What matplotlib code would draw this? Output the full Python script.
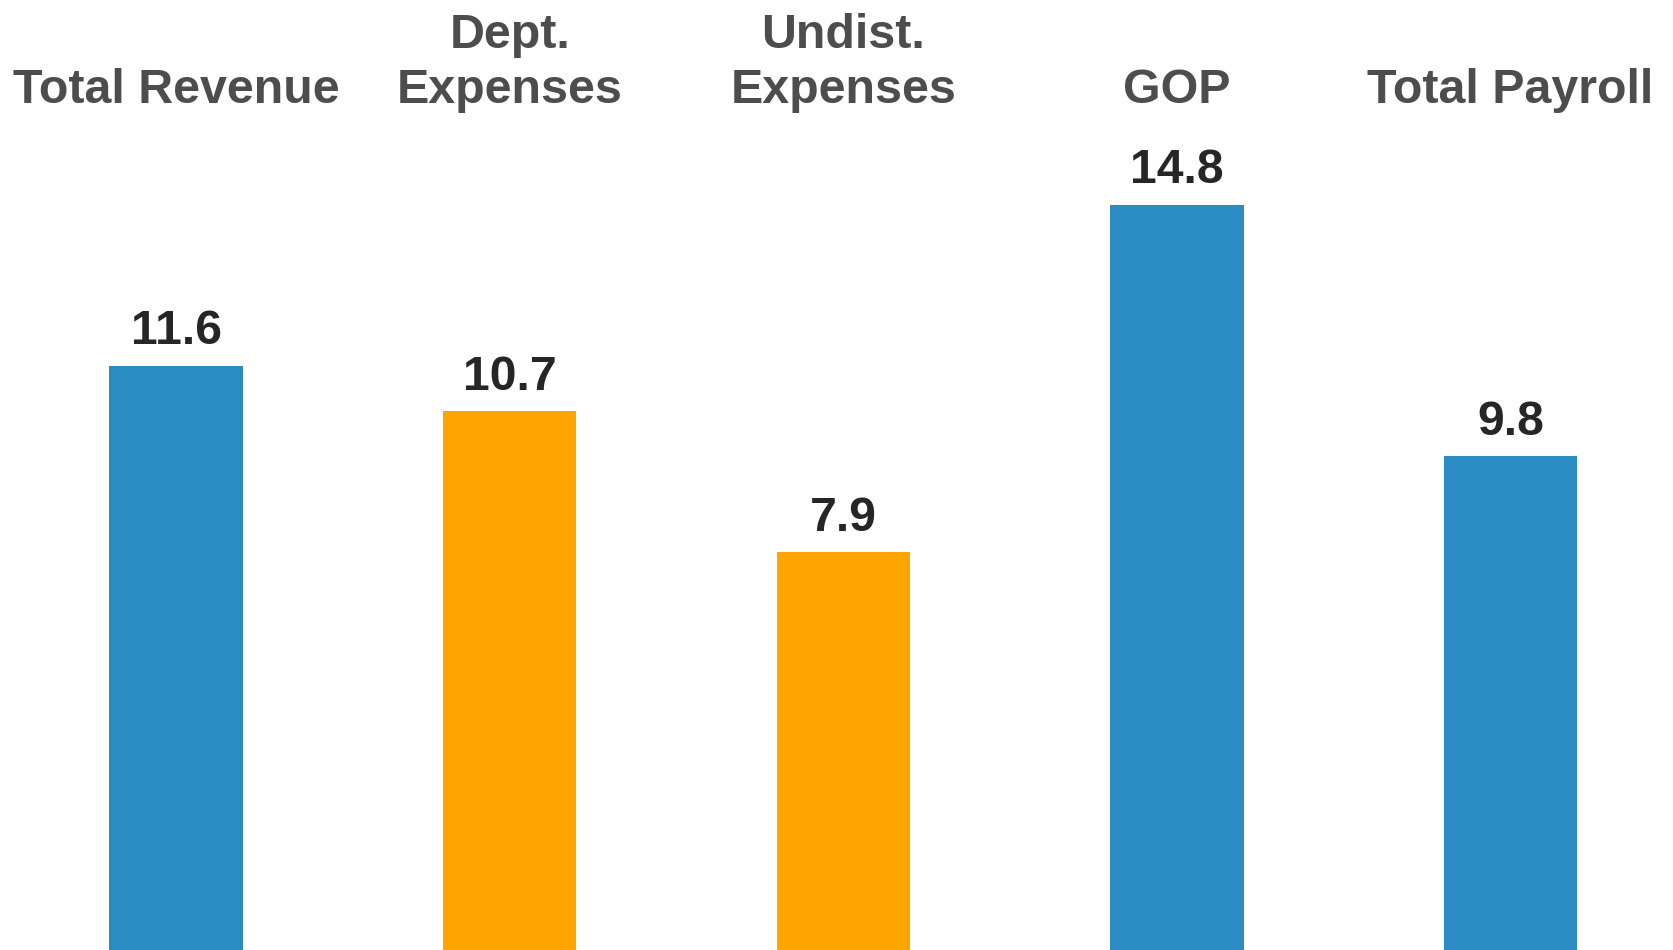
import matplotlib
matplotlib.use("Agg")
import matplotlib.pyplot as plt
import matplotlib.transforms as mtransforms

categories = ["Total Revenue", "Dept.\nExpenses", "Undist.\nExpenses", "GOP", "Total Payroll"]
values = [11.6, 10.7, 7.9, 14.8, 9.8]
colors = ["#2A8CC2", "#FFA500", "#FFA500", "#2A8CC2", "#2A8CC2"]

plt.rcParams['font.family'] = ['Liberation Sans', 'DejaVu Sans']

fig = plt.figure(figsize=(16.74, 9.5), dpi=100)
ax = fig.add_axes([0, 0, 1, 1])
x = list(range(len(categories)))
bars = ax.bar(x, values, width=0.4, color=colors)
ax.set_xlim(-0.528, 4.49)
ax.set_ylim(0, 18.86)
ax.axis('off')

for xi, v in zip(x, values):
    ax.annotate(f"{v:.1f}", (xi, v), xytext=(0, 15.5), textcoords='offset points',
                ha='center', va='baseline', fontsize=34.7, fontweight='bold', color='#262626')

trans = mtransforms.blended_transform_factory(ax.transData, ax.transAxes)
for xi, c in zip(x, categories):
    ax.text(xi, 0.881, c, transform=trans, ha='center', va='bottom', fontsize=34.8,
            fontweight='bold', color='#4D4D4D', linespacing=1.3)

fig.savefig("out.png", dpi=100)
